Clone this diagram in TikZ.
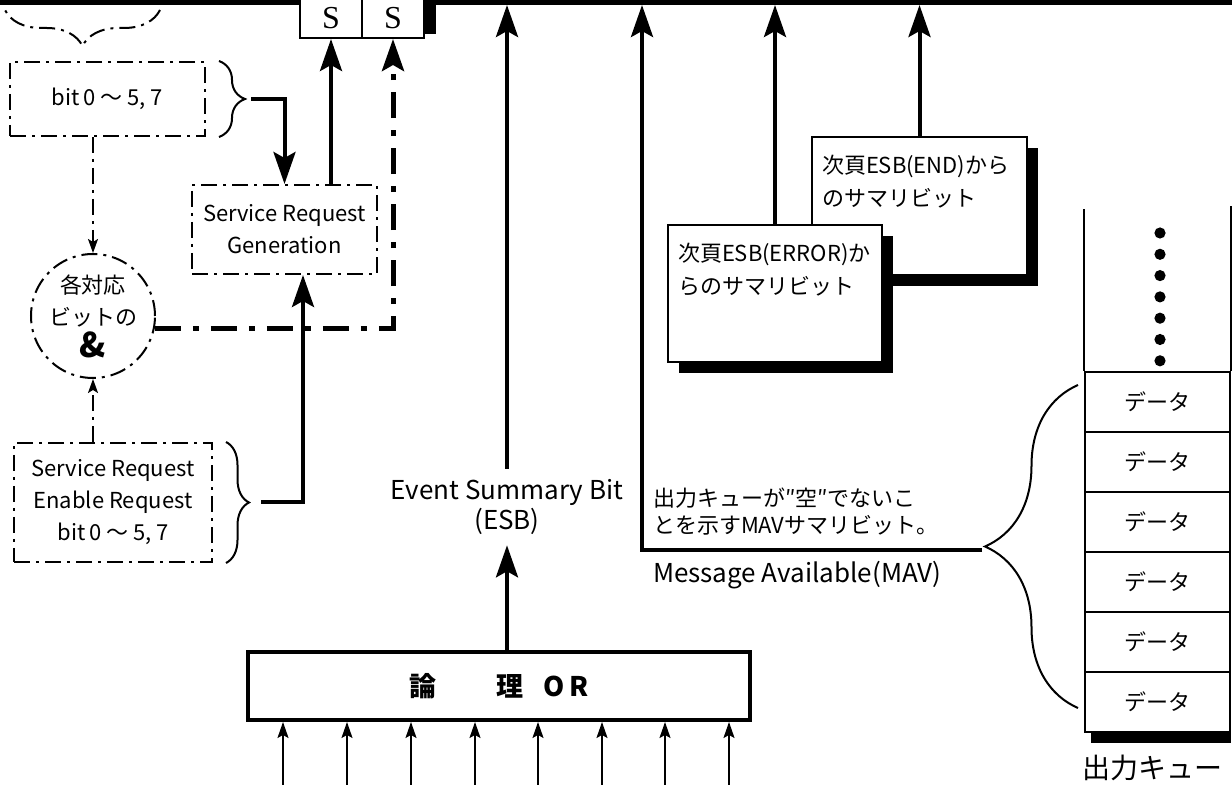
\documentclass[tikz,border=0pt]{standalone}
\usepackage{fontspec}
\setmainfont{Noto Sans CJK JP}
\newfontfamily\sfont{Liberation Serif}
\usetikzlibrary{arrows.meta,decorations.pathreplacing,shadows}

\begin{document}
\begin{tikzpicture}[x=.5pt,y=-.5pt,line width=1pt,font=\fontsize{11}{16}\selectfont,
  ddot/.style={dash pattern=on 8pt off 3pt on 1.5pt off 3pt},
  ddbox/.style={draw,ddot,align=center,inner sep=0pt},
  sbox/.style={draw,fill=white,minimum width=31pt,minimum height=20pt,inner sep=0pt,font=\sfont\fontsize{16}{16}\selectfont},
  sumbox/.style={draw,fill=white,minimum width=107pt,minimum height=68.5pt,drop shadow={shadow xshift=5.5pt,shadow yshift=-5.5pt,opacity=1,fill=black}},
  sumtext/.style={anchor=north west,align=left,inner sep=0pt,font=\fontsize{11}{16.5}\selectfont},
  qcell/.style={draw,minimum width=72.5pt,minimum height=30pt,inner sep=0pt},
  bigarr/.style={line width=2pt,-{Stealth[length=16pt,width=11pt,inset=3pt]}},
  thinarr/.style={line width=.8pt,-{Stealth[length=8pt,width=5.5pt,inset=1.5pt]}},
  ddarr/.style={line width=.8pt,ddot,-{Stealth[length=7pt,width=5pt,inset=1.5pt]}}]
\useasboundingbox (0,0) rectangle (1232,785);
\coordinate (bar) at (0,5);
\fill (424,-20) rectangle (436,34);
\node[sbox] (s1) at (331,18) {S};
\node[sbox] (s2) at (393,18) {S};
\draw[line width=2.5pt] (0,2.5) -- (s1.west |- 0,2.5) (s2.east |- 0,2.5) -- (1232,2.5);
\draw[ddot,decorate,decoration={brace,amplitude=18pt}] (160,10) -- (5,10);
\node[ddbox,minimum width=97.5pt,minimum height=37pt] (bits) at (107.5,99) {bit\,0 ～ 5, 7};
\draw[decorate,decoration={brace,amplitude=13pt}] ([xshift=6.5pt]bits.north east) -- ([xshift=6.5pt]bits.south east);
\coordinate (bitstip) at ([xshift=22.5pt]bits.east);
\node[ddbox,minimum width=92.5pt,minimum height=44.5pt] (srg) at (284.5,229.5) {Service Request\\Generation};
\node[ddbox,circle,minimum size=62pt] (andc) at (93,316) {各対応\\ビットの\\{\bfseries\fontsize{17}{17}\selectfont\&}};
\node[ddbox,minimum width=99pt,minimum height=59.5pt] (sre) at (113,502.5) {Service Request\\Enable Request\\bit\,0 ～ 5, 7};
\draw[decorate,decoration={brace,amplitude=11.5pt}] ([xshift=6.5pt]sre.north east) -- ([xshift=6.5pt]sre.south east);
\coordinate (sretip) at ([xshift=24pt]sre.east);
\draw[bigarr] (bitstip) -| (srg.north);
\draw[bigarr] (sretip) -| ([xshift=9.25pt]srg.south);
\draw[bigarr] (s1.south |- srg.north) -- (s1.south);
\draw[ddarr] (andc.north |- bits.south) -- (andc.north);
\draw[ddarr] (andc.south |- sre.north) -- (andc.south);
\draw[bigarr,line width=2.5pt,dash pattern=on 13pt off 6pt on 3pt off 6pt] (andc.-11) -- (andc.-11 -| s2.south) -- (s2.south);
\node[align=center,inner sep=5pt,font=\fontsize{13}{13}\selectfont] (esb) at (507,507) {Event Summary Bit\\(ESB)};
\node[draw,line width=2pt,minimum width=251pt,minimum height=34pt,font=\bfseries\fontsize{13.5}{13.5}\selectfont] (or) at (499,686) {論\hspace{30pt}理\hspace{10pt}O\,R};
\draw[bigarr] (esb.south |- or.north) -- (esb.south);
\draw[bigarr] (esb.north) -- (esb.north |- bar);
\foreach \x in {283,347,411,475,538,602,665,729}
  \draw[thinarr] (\x,785) -- (or.south -| \x,0);
\coordinate (mav) at (642,550);
\coordinate (mavend) at (982,550);
\draw[bigarr] (mavend) -- (mav) -- (mav |- bar);
\node[anchor=north west,align=left,inner sep=0pt,font=\fontsize{11}{13.5}\selectfont] (mavnote) at (652,487) {出力キューが″空″でないこ\\とを示すMAVサマリビット。};
\node[anchor=north west,inner sep=0pt,font=\fontsize{13}{13}\selectfont] (mavlbl) at (652,560) {Message Available(MAV)};
\node[sumbox,minimum width=107.5pt,minimum height=69pt] (endbox) at (919.5,206) {};
\node[sumtext] (endtxt) at ([xshift=5pt,yshift=-9pt]endbox.north west) {次頁ESB(END)から\\のサマリビット};
\node[sumbox] (errbox) at (775,293.5) {};
\node[sumtext] (errtxt) at ([xshift=5pt,yshift=-9pt]errbox.north west) {次頁ESB(ERROR)か\\らのサマリビット};
\draw[bigarr] (endbox.north) -- (endbox.north |- bar);
\draw[bigarr] (errbox.north) -- (errbox.north |- bar);
\foreach \i in {0,...,5}
  \node[qcell] (q\i) at (1157.5,{402+60*\i}) {データ};
\draw (q0.north west) -- ++(0,-162) (q0.north east) -- ++(0,-165);
\foreach \k in {0,...,6}
  \fill (1160,{233+21.3*\k}) circle (2.8pt);
\fill ([xshift=3.5pt]q5.south west) rectangle ([yshift=-5pt]q5.south east);
\node[font=\fontsize{14}{14}\selectfont] (qlbl) at (1152,768) {出力キュー};
\draw[decorate,decoration={brace,amplitude=46.5pt}] (1078,708) -- (1078,385);
\end{tikzpicture}
\end{document}
